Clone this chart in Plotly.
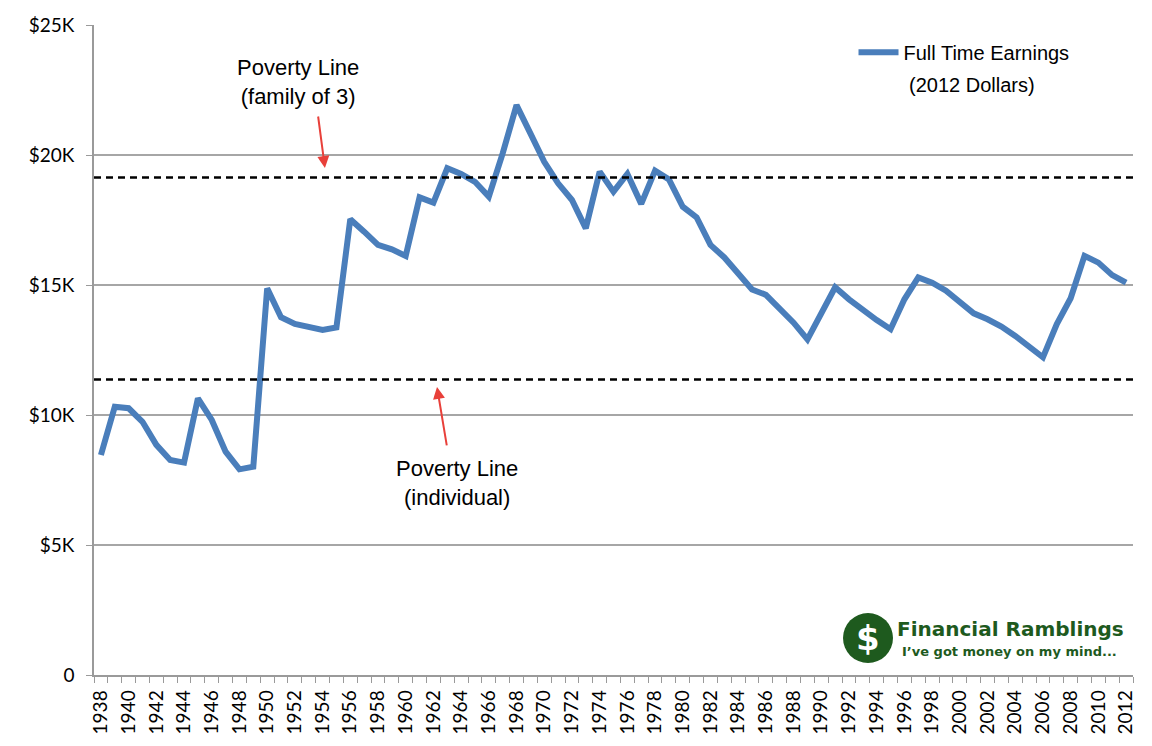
import plotly.graph_objects as go

years = list(range(1938, 2013))
earnings_k = [
    8.46, 10.32, 10.26, 9.74, 8.85, 8.27, 8.17, 10.64, 9.81, 8.59,
    7.91, 8.01, 14.87, 13.76, 13.50, 13.40, 13.27, 13.37, 17.53, 17.05,
    16.54, 16.37, 16.12, 18.37, 18.17, 19.49, 19.27, 18.97, 18.40, 20.06,
    21.92, 20.83, 19.74, 18.91, 18.27, 17.18, 19.36, 18.59, 19.27, 18.12,
    19.40, 19.06, 18.01, 17.60, 16.54, 16.06, 15.42, 14.83, 14.62, 14.10,
    13.55, 12.91, 13.91, 14.91, 14.45, 14.04, 13.65, 13.30, 14.45, 15.29,
    15.09, 14.78, 14.32, 13.91, 13.68, 13.40, 13.04, 12.63, 12.22, 13.50,
    14.49, 16.12, 15.86, 15.38, 15.09,
]
earnings = [v * 1000 for v in earnings_k]

poverty_family3 = 19130
poverty_individual = 11370

y_tickvals = [0, 5000, 10000, 15000, 20000, 25000]
y_ticktext = ["0", "$5K", "$10K", "$15K", "$20K", "$25K"]
x_tickvals = list(range(1938, 2013, 2))

fig = go.Figure()
fig.add_trace(go.Scatter(
    x=years, y=earnings, mode="lines", name="Full Time Earnings",
    line=dict(color="#4a7ebb", width=6),
))

for val in (poverty_family3, poverty_individual):
    fig.add_hline(y=val, line=dict(color="black", width=2.5, dash="7px,5px"), layer="above")

ann_font = dict(family="Liberation Sans, Arial, sans-serif", size=22, color="black")
fig.add_annotation(x=1952.2, y=22820, text="Poverty Line<br>(family of 3)", showarrow=False,
                   font=ann_font, xanchor="center", yanchor="middle")
fig.add_annotation(x=1963.7, y=7400, text="Poverty Line<br>(individual)", showarrow=False,
                   font=ann_font, xanchor="center", yanchor="middle")
fig.add_annotation(x=1954.17, y=19500, ax=-7, ay=-53, text="", showarrow=True,
                   arrowhead=2, arrowsize=1.2, arrowwidth=2, arrowcolor="#e8403a")
fig.add_annotation(x=1962.26, y=11080, ax=10, ay=60, text="", showarrow=True,
                   arrowhead=2, arrowsize=1.2, arrowwidth=2, arrowcolor="#e8403a")

# legend subtitle
fig.add_annotation(xref="paper", yref="paper", x=0.845, y=0.907, text="(2012 Dollars)",
                   showarrow=False, xanchor="center", yanchor="middle",
                   font=dict(family="Liberation Sans, Arial, sans-serif", size=20, color="black"))

# logo
fig.add_shape(type="circle", xref="paper", yref="paper",
              x0=(843 - 94) / 1039, x1=(893 - 94) / 1039,
              y0=(675 - 663) / 650, y1=(675 - 613) / 650,
              fillcolor="#1e5a1e", line=dict(width=0))
fig.add_annotation(xref="paper", yref="paper", x=(868 - 94) / 1039, y=(675 - 638) / 650,
                   text="<b>$</b>", showarrow=False, xanchor="center", yanchor="middle",
                   font=dict(family="DejaVu Sans", size=34, color="white"))
fig.add_annotation(xref="paper", yref="paper", x=(1126 - 94) / 1039, y=(675 - 629) / 650,
                   text="<b>Financial Ramblings</b>", showarrow=False, xanchor="right", yanchor="middle",
                   font=dict(family="DejaVu Sans, Liberation Sans", size=20, color="#1e5a1e"))
fig.add_annotation(xref="paper", yref="paper", x=(1119 - 94) / 1039, y=(675 - 651) / 650,
                   text="<b>I’ve got money on my mind...</b>", showarrow=False, xanchor="right", yanchor="middle",
                   font=dict(family="DejaVu Sans, Liberation Sans", size=13, color="#1e5a1e"))

fig.update_layout(
    width=1152, height=746,
    margin=dict(l=86, r=27, t=17, b=79),
    paper_bgcolor="white", plot_bgcolor="white",
    showlegend=True,
    legend=dict(x=0.731, y=0.988, xanchor="left", yanchor="top", bgcolor="rgba(0,0,0,0)",
                font=dict(family="Liberation Sans, Arial, sans-serif", size=20, color="black"),
                itemwidth=40),
    font=dict(family="Liberation Sans, Arial, sans-serif", color="black"),
)
fig.update_xaxes(
    range=[1937.5, 2012.5], tickmode="array", tickvals=x_tickvals,
    ticktext=[str(v) for v in x_tickvals], tickangle=-90, automargin=False,
    tickfont=dict(family="Lato, Liberation Sans", size=19, color="black"), ticks="",
    ticklabelstandoff=6,
    showgrid=False, showline=True, linecolor="#9a9a9a", linewidth=1.5,
    minor=dict(ticks="outside", tick0=1937.5, dtick=1, ticklen=6, tickcolor="#9a9a9a", showgrid=False),
    zeroline=False,
)
fig.update_yaxes(
    range=[0, 25000], tickmode="array", tickvals=y_tickvals, ticktext=y_ticktext,
    tickfont=dict(family="Lato, Liberation Sans", size=19, color="black"), automargin=False,
    ticks="outside", ticklen=6, tickcolor="#9a9a9a", ticklabelstandoff=8,
    showgrid=True, gridcolor="#a6a6a6", gridwidth=1.5,
    showline=True, linecolor="#9a9a9a", linewidth=1.5, zeroline=False,
)

fig.write_html("out.html")
